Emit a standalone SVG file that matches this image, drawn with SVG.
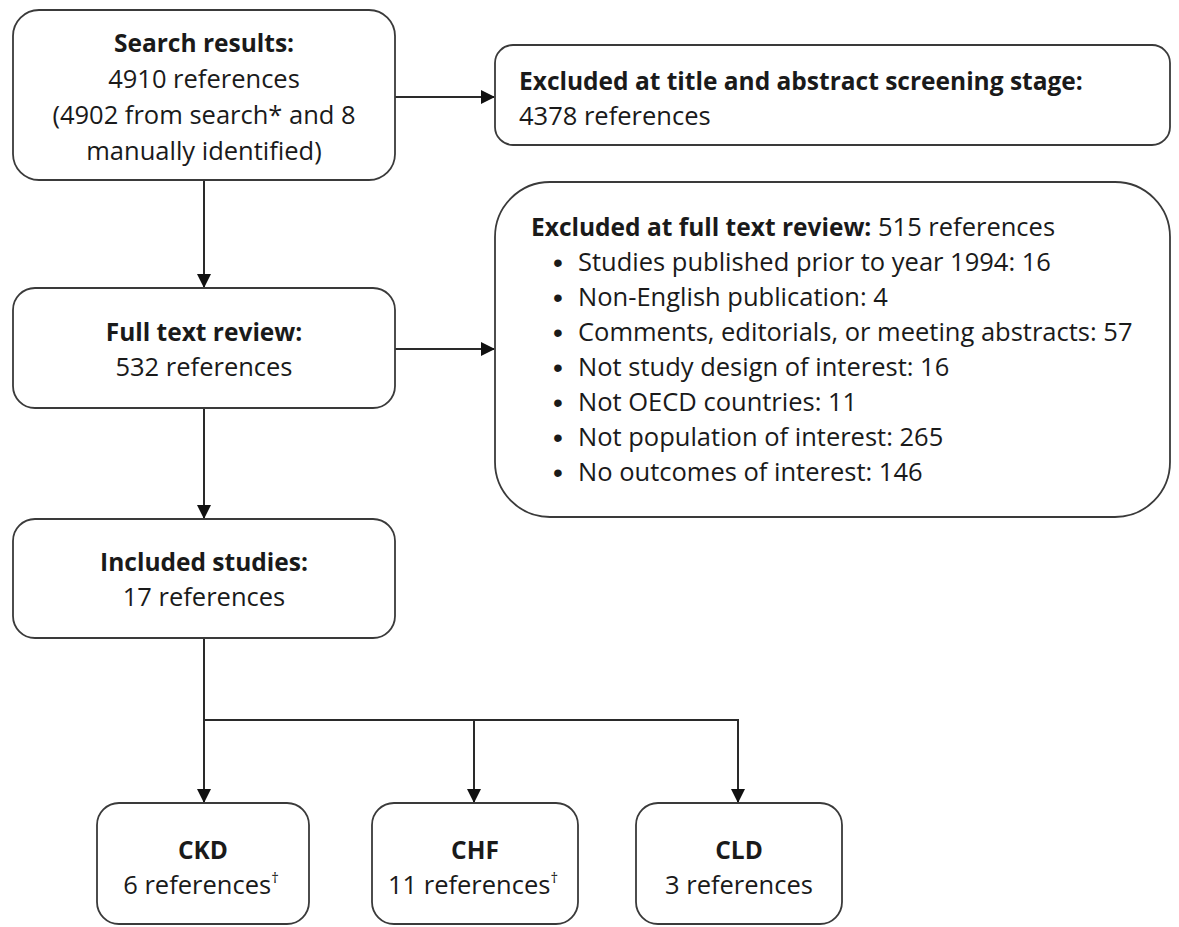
<svg xmlns="http://www.w3.org/2000/svg" width="1179" height="927" viewBox="0 0 1179 927">
<defs>
<style>
.box{fill:#fff;stroke:#3a3a3a;stroke-width:1.8}
.t{font-family:"Open Sans","Liberation Sans",sans-serif;font-size:25.5px;fill:#1a1a1a}
.c{text-anchor:middle}
.b{font-weight:bold;font-size:24.5px}
.bu{font-family:"Liberation Sans",sans-serif;font-size:28px;fill:#1a1a1a}
.ln{fill:none;stroke:#2a2a2a;stroke-width:2}
</style>
<marker id="ah" markerWidth="14" markerHeight="16" refX="13" refY="7" orient="auto" markerUnits="userSpaceOnUse">
<path d="M0,0 L14,7 L0,14 Z" fill="#111"/>
</marker>
</defs>
<rect width="1179" height="927" fill="#fff"/>
<g id="connectors">
<line class="ln" x1="395" y1="97" x2="494" y2="97" marker-end="url(#ah)"/>
<line class="ln" x1="204" y1="180" x2="204" y2="287" marker-end="url(#ah)"/>
<line class="ln" x1="395" y1="349" x2="494" y2="349" marker-end="url(#ah)"/>
<line class="ln" x1="204" y1="408" x2="204" y2="518" marker-end="url(#ah)"/>
<line class="ln" x1="204" y1="638" x2="204" y2="802" marker-end="url(#ah)"/>
<polyline class="ln" points="204,720 738,720 738,802" marker-end="url(#ah)"/>
<line class="ln" x1="474" y1="720" x2="474" y2="802" marker-end="url(#ah)"/>
</g>
<g id="search">
<rect class="box" x="13" y="10" width="382" height="170" rx="26"/>
<text class="t c b" x="204" y="52">Search results:</text>
<text class="t c" x="204" y="88">4910 references</text>
<text class="t c" x="204" y="124">(4902 from search* and 8</text>
<text class="t c" x="204" y="160">manually identified)</text>
</g>
<g id="excluded-title">
<rect class="box" x="495" y="45" width="675" height="100" rx="18"/>
<text class="t b" x="519" y="90">Excluded at title and abstract screening stage:</text>
<text class="t" x="519" y="125">4378 references</text>
</g>
<g id="fulltext">
<rect class="box" x="13" y="288" width="382" height="120" rx="22"/>
<text class="t c b" x="204" y="341">Full text review:</text>
<text class="t c" x="204" y="376">532 references</text>
</g>
<g id="excluded-full">
<rect class="box" x="495" y="182" width="675" height="335" rx="55"/>
<text class="t" x="531" y="236"><tspan class="b">Excluded at full text review:</tspan> 515 references</text>
<text class="bu" x="553" y="272">•</text><text class="t" x="578" y="271">Studies published prior to year 1994: 16</text>
<text class="bu" x="553" y="307">•</text><text class="t" x="578" y="306">Non-English publication: 4</text>
<text class="bu" x="553" y="342">•</text><text class="t" x="578" y="341">Comments, editorials, or meeting abstracts: 57</text>
<text class="bu" x="553" y="377">•</text><text class="t" x="578" y="376">Not study design of interest: 16</text>
<text class="bu" x="553" y="412">•</text><text class="t" x="578" y="411">Not OECD countries: 11</text>
<text class="bu" x="553" y="447">•</text><text class="t" x="578" y="446">Not population of interest: 265</text>
<text class="bu" x="553" y="482">•</text><text class="t" x="578" y="481">No outcomes of interest: 146</text>
</g>
<g id="included">
<rect class="box" x="13" y="519" width="382" height="119" rx="22"/>
<text class="t c b" x="204" y="571">Included studies:</text>
<text class="t c" x="204" y="606">17 references</text>
</g>
<g id="ckd">
<rect class="box" x="97" y="803" width="212" height="121" rx="22"/>
<text class="t c b" x="203" y="859">CKD</text>
<text class="t c" x="201" y="894">6 references<tspan font-size="15" dy="-11" fill="#1a1a1a">†</tspan></text>
</g>
<g id="chf">
<rect class="box" x="372" y="803" width="206" height="121" rx="22"/>
<text class="t c b" x="475" y="859">CHF</text>
<text class="t c" x="473" y="894">11 references<tspan font-size="15" dy="-11" fill="#1a1a1a">†</tspan></text>
</g>
<g id="cld">
<rect class="box" x="636" y="803" width="206" height="121" rx="22"/>
<text class="t c b" x="739" y="859">CLD</text>
<text class="t c" x="739" y="894">3 references</text>
</g>
</svg>
